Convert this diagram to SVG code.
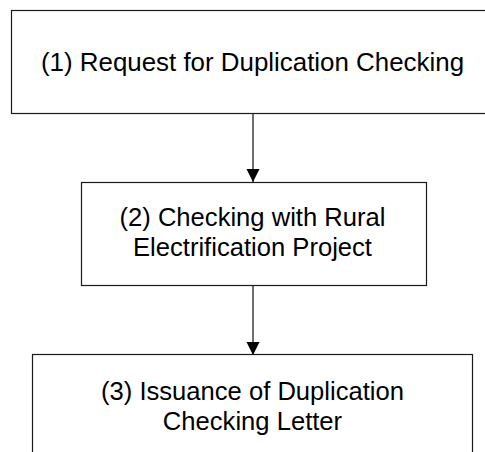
<svg xmlns="http://www.w3.org/2000/svg" width="485" height="452" viewBox="0 0 485 452">
  <style>
    .box { fill: #ffffff; stroke: #1a1a1a; stroke-width: 1.2; }
    .lbl { font-family: "Liberation Sans", Arial, sans-serif; font-size: 25.6px; fill: #000000; text-anchor: middle; }
    .conn { stroke: #333333; stroke-width: 1.4; fill: none; }
  </style>
  <defs>
    <marker id="arrow" markerWidth="14" markerHeight="14" refX="13" refY="6.5" orient="auto" markerUnits="userSpaceOnUse">
      <path d="M0,0 L13,6.5 L0,13 Z" fill="#000000"/>
    </marker>
  </defs>
  <rect width="485" height="452" fill="#ffffff"/>

  <g id="connectors">
    <line class="conn" x1="253" y1="114" x2="253" y2="182" marker-end="url(#arrow)"/>
    <line class="conn" x1="253" y1="286" x2="253" y2="355" marker-end="url(#arrow)"/>
  </g>

  <g id="node1">
    <rect class="box" x="11.5" y="10.5" width="490" height="103"/>
    <text class="lbl" x="252.5" y="71" style="font-size:25.9px">(1) Request for Duplication Checking</text>
  </g>

  <g id="node2">
    <rect class="box" x="81.5" y="182.5" width="345" height="103"/>
    <text class="lbl" x="252.5" y="226">(2) Checking with Rural</text>
    <text class="lbl" x="252.5" y="256">Electrification Project</text>
  </g>

  <g id="node3">
    <rect class="box" x="32.5" y="354.5" width="440" height="120"/>
    <text class="lbl" x="252.5" y="400">(3) Issuance of Duplication</text>
    <text class="lbl" x="252.5" y="430">Checking Letter</text>
  </g>
</svg>
